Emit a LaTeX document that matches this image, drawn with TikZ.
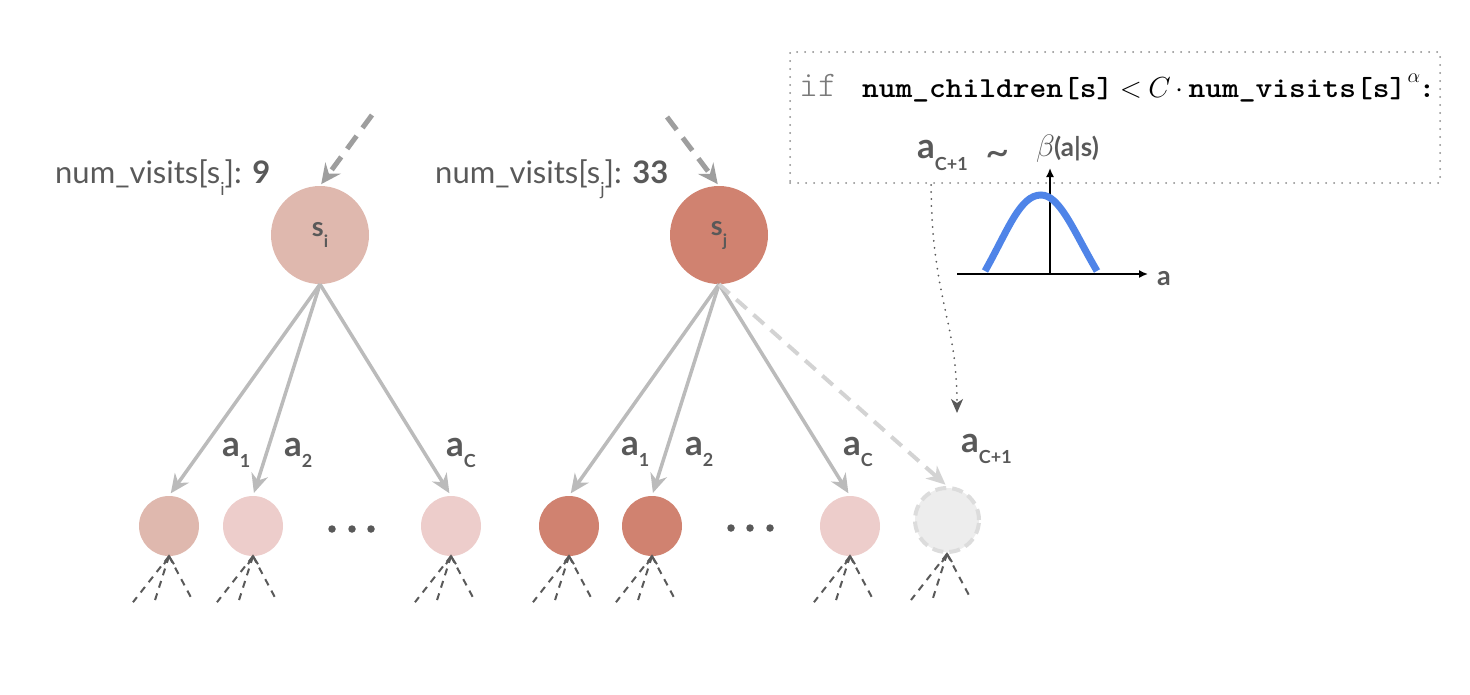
\RequirePackage{fix-cm}
\documentclass[tikz,border=0pt]{standalone}
\usepackage{fontspec}
\usepackage{graphicx}
\setmainfont{Lato}
\usetikzlibrary{arrows.meta,calc}
\definecolor{txt}{HTML}{595959}
\definecolor{sifill}{HTML}{DFB8AE}
\definecolor{lightfill}{HTML}{EDCDCB}
\definecolor{darkfill}{HTML}{D08270}
\definecolor{edgegray}{HTML}{BBBBBB}
\definecolor{ingray}{HTML}{9E9E9E}
\definecolor{ghostfill}{HTML}{EDEDED}
\definecolor{ghostline}{HTML}{DCDCDC}
\definecolor{newedge}{HTML}{D3D3D3}
\definecolor{curveblue}{HTML}{4F84E8}
\definecolor{boxgray}{HTML}{8A8A8A}
\definecolor{iftxt}{HTML}{7A7A7A}
\newcommand\fs[1]{\fontsize{#1}{#1}\selectfont}
\newcommand\alab[1]{{\bfseries\fs{35}a}\raisebox{-11pt}{\bfseries\fs{18}#1}}
\newcommand\ttb[1]{\scalebox{1.1}[1]{\ttfamily\bfseries\fs{29}#1}}
\begin{document}
\begin{tikzpicture}[x=1pt,y=-1pt,
  state/.style={circle, minimum size=98pt, inner sep=0pt, text=txt},
  kid/.style={circle, minimum size=60pt, inner sep=0pt},
  tedge/.style={draw=edgegray, line width=3.5pt, shorten >=3pt,
     -{Stealth[length=19pt,width=17pt,inset=6pt]}},
  newarrow/.style={draw=newedge, line width=4pt, shorten >=2pt, dash pattern=on 14pt off 9pt,
     -{Stealth[length=19pt,width=17pt,inset=6pt]}},
  inarrow/.style={draw=ingray, line width=5pt, dash pattern=on 16pt off 10pt, shorten >=2pt,
     -{Stealth[length=20pt,width=19pt,inset=7pt]}},
  gline/.style={draw=txt, line width=2pt, dash pattern=on 7pt off 6pt},
  gtip/.style={draw=txt, line width=2pt},
  lab/.style={text=txt, inner sep=0pt, anchor=base west},
  fpart/.style={inner sep=0pt, anchor=base west},
  dot/.style={circle, fill=txt, minimum size=7.5pt, inner sep=0pt},
  axis/.style={draw=black, line width=1.6pt, -{Latex[length=9pt,width=8pt]}},
  boxstyle/.style={draw=boxgray, line width=2pt, line cap=round, dash pattern=on 0pt off 8pt},
  hint/.style={draw=txt, line width=2pt, line cap=round, dash pattern=on 0pt off 7pt,
     -{Stealth[length=14pt,width=12pt,inset=4pt]}}
]
\useasboundingbox (0,0) rectangle (1470,694);

% ---- states
\node[state, fill=sifill] (si) at (320,235) {{\bfseries\fs{27}s}\raisebox{-11pt}{\bfseries\fs{17}i}};
\node[state, fill=darkfill] (sj) at (719,235) {{\bfseries\fs{27}s}\raisebox{-11pt}{\bfseries\fs{17}j}};

\node[lab] (nvi) at (55,183) {\fs{31}num\_visits[s\raisebox{-12pt}{\fs{18}i}]: \textbf{9}};
\node[lab] (nvj) at (435,183) {\fs{31}num\_visits[s\raisebox{-12pt}{\fs{18}j}]: \textbf{33}};

\coordinate (ini) at (372,115);
\coordinate (inj) at (667,117);
\draw[inarrow] (ini) -- (si.north);
\draw[inarrow] (inj) -- (sj.north);

% ---- children
\node[kid, fill=sifill] (l1) at (169,526) {};
\node[kid, fill=lightfill] (l2) at (253,526) {};
\node[kid, fill=lightfill] (l3) at (451,526) {};
\node[kid, fill=darkfill] (r1) at (569,526) {};
\node[kid, fill=darkfill] (r2) at (652,526) {};
\node[kid, fill=lightfill] (r3) at (850,526) {};
\node[circle, minimum size=64pt, inner sep=0pt, fill=ghostfill, draw=ghostline,
      line width=4pt, dash pattern=on 11pt off 6pt] (r4) at (947,520) {};

\node[dot] (ld1) at (332,529) {};
\node[dot] (ld2) at (352,529) {};
\node[dot] (ld3) at (371,529) {};
\node[dot] (rd1) at (731,528) {};
\node[dot] (rd2) at (750,528) {};
\node[dot] (rd3) at (770,528) {};

% ---- edges
\draw[tedge] (si.south) -- (l1.north);
\draw[tedge] (si.south) -- (l2.north);
\draw[tedge] (si.south) -- (l3.north);
\draw[tedge] (sj.south) -- (r1.north);
\draw[tedge] (sj.south) -- (r2.north);
\draw[tedge] (sj.south) -- (r3.north);
\draw[newarrow] (sj.south) -- (r4.north);

% ---- action labels
\node[lab] (la1) at (222,456) {\alab{1}};
\node[lab] (la2) at (284,456) {\alab{2}};
\node[lab] (laC) at (446,456) {\alab{C}};
\node[lab] (ra1) at (621,455) {\alab{1}};
\node[lab] (ra2) at (685,455) {\alab{2}};
\node[lab] (raC) at (843,455) {\alab{C}};
\node[lab] (raC1) at (961,452) {\alab{C+1}};

% ---- grandchildren (dashed)
\foreach \n in {l1,l2,l3,r1,r2,r3,r4}{
  \draw[gline] (\n.south) -- ++(-36,46);
  \draw[gline] (\n.south) -- ++(-14,44);
  \draw[gline] (\n.south) -- ++(24,45);
  \draw[gtip] ($(\n.south)+(-5,8)$) -- (\n.south) -- ($(\n.south)+(5,8)$);
}

% ---- box
\node[boxstyle, minimum width=650pt, minimum height=131pt, inner sep=0pt] (box) at (1115,117.5) {};
\node[fpart, text=iftxt] (ifw) at (799,96) {\fs{36}\fontseries{l}\ttfamily if};
\node[fpart] (c1) at (862,97) {\ttb{num\_children[s]}};
\node[fpart] (c2) at ([xshift=6pt]c1.base east) {\fs{29}$<$};
\node[fpart] (c3) at ([xshift=6pt]c2.base east) {\fs{29}$C$};
\node[fpart] (c4) at ([xshift=4pt]c3.base east) {\fs{29}$\cdot$};
\node[fpart] (c5) at ([xshift=5pt]c4.base east) {\ttb{num\_visits[s]}};
\node[fpart] (c6) at ([xshift=1pt,yshift=15pt]c5.base east) {\fs{20}$\alpha$};
\node[fpart] (c7) at ([xshift=12pt]c5.base east) {\ttb{:}};

\node[lab] (samp) at (917,158) {{\bfseries\fs{35}a}\raisebox{-12pt}{\bfseries\fs{18}C+1}};
\node[lab] (tilde) at (985,166) {\fs{42}\textasciitilde};
\node[lab] (beta) at (1036,156) {\fs{31}$\beta$};
\node[lab] (bargs) at (1054,156) {\bfseries\fs{26}(a|s)};

% ---- plot
\coordinate (xs) at (957,274);
\coordinate (xe) at (1148,274);
\coordinate (org) at (1050,274);
\coordinate (ye) at (1050,168);
\draw[axis] (xs) -- (xe);
\draw[axis] (org) -- (ye);
\draw[curveblue, line width=7pt] (985,271) .. controls (1008,230) and (1020,195) .. (1041,195)
   .. controls (1060,195) and (1074,232) .. (1097,271);
\node[text=txt, inner sep=0pt] (alab) at (1164,279) {\bfseries\fs{27}a};

% ---- hint
\coordinate (hs) at (931,185);
\coordinate (he) at (957,413);
\draw[hint] (hs) .. controls (932,300) and (957,320) .. (he);
\end{tikzpicture}
\end{document}
